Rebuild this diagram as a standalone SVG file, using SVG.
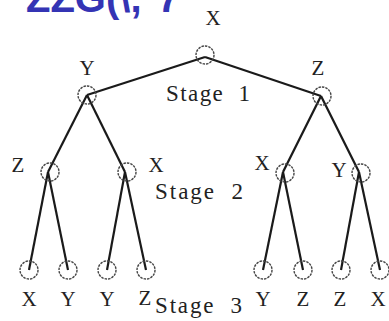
<svg xmlns="http://www.w3.org/2000/svg" width="389" height="321" viewBox="0 0 389 321">
<style>
.lbl{font-family:"Liberation Serif","DejaVu Serif",serif;font-size:21px;fill:#222;text-anchor:middle}
.stg{font-family:"Liberation Serif","DejaVu Serif",serif;font-size:23px;fill:#222}
.nd{fill:none;stroke:#444;stroke-width:1.4;stroke-dasharray:2.5 1}
.ed{stroke:#1a1a1a;stroke-width:2.2;fill:none}
.hd{font-family:"Liberation Sans","DejaVu Sans",sans-serif;font-size:40px;font-weight:bold;fill:#3434b4}
</style>
<rect width="389" height="321" fill="#fff"/>
<text class="hd" x="26" y="12">ZZG(\,°7</text>
<g id="connectors">
<line class="ed" x1="205" y1="57" x2="87" y2="95"/>
<line class="ed" x1="205" y1="57" x2="321" y2="96"/>
<line class="ed" x1="87" y1="95" x2="48" y2="172"/>
<line class="ed" x1="87" y1="95" x2="125" y2="172"/>
<line class="ed" x1="321" y1="96" x2="283" y2="172"/>
<line class="ed" x1="321" y1="96" x2="359" y2="172"/>
<line class="ed" x1="48" y1="172" x2="29" y2="270"/>
<line class="ed" x1="48" y1="172" x2="68" y2="270"/>
<line class="ed" x1="125" y1="172" x2="107" y2="270"/>
<line class="ed" x1="125" y1="172" x2="146" y2="270"/>
<line class="ed" x1="283" y1="172" x2="263" y2="270"/>
<line class="ed" x1="283" y1="172" x2="303" y2="270"/>
<line class="ed" x1="359" y1="172" x2="341" y2="270"/>
<line class="ed" x1="359" y1="172" x2="380" y2="270"/>
</g>
<g id="root"><circle class="nd" cx="205" cy="55" r="9"/><text class="lbl" x="213" y="25">X</text></g>
<g id="n1Y"><circle class="nd" cx="87" cy="95" r="9"/><text class="lbl" x="87" y="75">Y</text></g>
<g id="n1Z"><circle class="nd" cx="322" cy="96" r="9"/><text class="lbl" x="318" y="75">Z</text></g>
<g id="n2Z"><circle class="nd" cx="50" cy="172" r="9"/><text class="lbl" x="18" y="172">Z</text></g>
<g id="n2X"><circle class="nd" cx="127" cy="172" r="9"/><text class="lbl" x="156" y="172">X</text></g>
<g id="n2X2"><circle class="nd" cx="285" cy="173" r="9"/><text class="lbl" x="262" y="170">X</text></g>
<g id="n2Y"><circle class="nd" cx="361" cy="173" r="9"/><text class="lbl" x="339" y="177">Y</text></g>
<g id="l1"><circle class="nd" cx="29" cy="270" r="9"/><text class="lbl" x="29" y="306">X</text></g>
<g id="l2"><circle class="nd" cx="68" cy="270" r="9"/><text class="lbl" x="68" y="306">Y</text></g>
<g id="l3"><circle class="nd" cx="107" cy="270" r="9"/><text class="lbl" x="107" y="306">Y</text></g>
<g id="l4"><circle class="nd" cx="146" cy="270" r="9"/><text class="lbl" x="145" y="305">Z</text></g>
<g id="l5"><circle class="nd" cx="263" cy="270" r="9"/><text class="lbl" x="263" y="306">Y</text></g>
<g id="l6"><circle class="nd" cx="303" cy="270" r="9"/><text class="lbl" x="303" y="306">Z</text></g>
<g id="l7"><circle class="nd" cx="341" cy="270" r="9"/><text class="lbl" x="340" y="306">Z</text></g>
<g id="l8"><circle class="nd" cx="380" cy="270" r="9"/><text class="lbl" x="378" y="306">X</text></g>
<g id="stages">
<text class="stg" x="166" y="101" textLength="84" xml:space="preserve">Stage  1</text>
<text class="stg" x="155" y="199" textLength="88" xml:space="preserve">Stage  2</text>
<text class="stg" x="155" y="313" textLength="87" xml:space="preserve">Stage  3</text>
</g>
</svg>
